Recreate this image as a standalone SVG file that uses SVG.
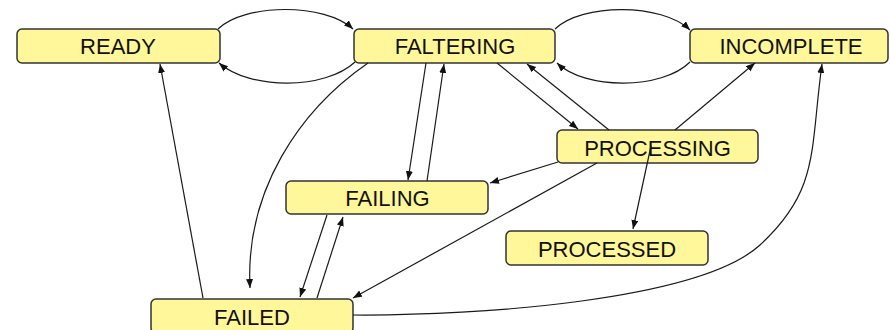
<svg xmlns="http://www.w3.org/2000/svg" width="890" height="330" viewBox="0 0 890 330">
<style>
.box{fill:#fff799;stroke:#333;stroke-width:1.5}
.lbl{font-family:"Liberation Sans",Arial,sans-serif;font-size:22px;fill:#111;text-anchor:middle}
.e{fill:none;stroke:#1a1a1a;stroke-width:1.2;marker-end:url(#arr)}
</style>
<defs>
<marker id="arr" markerUnits="userSpaceOnUse" markerWidth="10" markerHeight="8" refX="9" refY="3.5" orient="auto">
<path d="M0,0 L9,3.5 L0,7 z" fill="#111"/>
</marker>
</defs>
<rect width="890" height="330" fill="#fff"/>
<g id="READY"><rect class="box" x="17" y="29" width="203" height="34" rx="5"/><text class="lbl" x="118" y="54">READY</text></g>
<g id="FALTERING"><rect class="box" x="354" y="29" width="201" height="34" rx="5"/><text class="lbl" x="455" y="54">FALTERING</text></g>
<g id="INCOMPLETE"><rect class="box" x="690" y="29" width="198" height="34" rx="5"/><text class="lbl" x="791" y="54">INCOMPLETE</text></g>
<g id="PROCESSING"><rect class="box" x="557" y="130" width="201" height="33" rx="5"/><text class="lbl" x="657.5" y="156">PROCESSING</text></g>
<g id="FAILING"><rect class="box" x="286" y="181" width="202" height="33" rx="5"/><text class="lbl" x="387.5" y="206">FAILING</text></g>
<g id="PROCESSED"><rect class="box" x="506" y="231" width="202" height="34" rx="5"/><text class="lbl" x="607" y="257">PROCESSED</text></g>
<g id="FAILED"><rect class="box" x="151" y="299" width="202" height="34" rx="5"/><text class="lbl" x="252" y="325">FAILED</text></g>
<g id="connectors">
<path class="e" d="M218,29 C245,3 325,3 353,29"/>
<path class="e" d="M355,62 C325,90 250,90 219,63"/>
<path class="e" d="M555,29 C582,3 662,3 690,30"/>
<path class="e" d="M690,62 C662,90 585,90 557,63"/>
<path class="e" d="M497,63 L578,129"/>
<path class="e" d="M609,130 L527,64"/>
<path class="e" d="M675,130 L755,63"/>
<path class="e" d="M426,63 L408,180"/>
<path class="e" d="M427,181 L444,64"/>
<path class="e" d="M558,162 L490,183"/>
<path class="e" d="M597,163 L353,298"/>
<path class="e" d="M651,146 L633,229"/>
<path class="e" d="M368,63 C300,110 245,190 250,288"/>
<path class="e" d="M203,298 L160,64"/>
<path class="e" d="M327,215 L300,297"/>
<path class="e" d="M317,298 L343,217"/>
<path class="e" d="M353,315 C480,316 700,300 760,245 S810,150 822,64"/>
</g>
</svg>
